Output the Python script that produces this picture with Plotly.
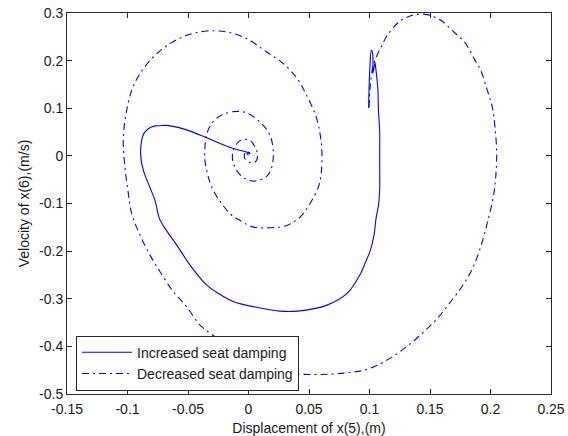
import plotly.graph_objects as go

# Phase trajectory of the seat mass: displacement x(5) vs velocity x(6)
inc_disp = [0.0993, 0.0996, 0.1004, 0.1015, 0.1025, 0.1029, 0.1026, 0.1037, 0.1045,
            0.1054, 0.1070, 0.1074, 0.1084, 0.1084, 0.1084, 0.1074, 0.1054, 0.1037,
            0.1004, 0.0963, 0.0927, 0.0814, 0.0649, 0.0403, 0.0260, 0.0120, -0.0128,
            -0.0345, -0.0483, -0.0593, -0.0690, -0.0737, -0.0773, -0.0869, -0.0891,
            -0.0883, -0.0864, -0.0828, -0.0773, -0.0731, -0.0676, -0.0583, -0.0483,
            -0.0360, -0.0128, -0.0015, 0.0012, 0.0004, -0.0012, 0.0000]
inc_vel = [0.1004, 0.1376, 0.1901, 0.2216, 0.2174, 0.1964, 0.1733, 0.1838, 0.1964,
           0.1796, 0.1376, 0.0956, 0.0536, -0.0095, -0.0725, -0.1040, -0.1313, -0.1670,
           -0.2006, -0.2258, -0.2468, -0.2889, -0.3134, -0.3260, -0.3260, -0.3204, -0.3057,
           -0.2714, -0.2294, -0.1874, -0.1523, -0.1313, -0.0935, -0.0305, 0.0011,
           0.0326, 0.0473, 0.0571, 0.0630, 0.0634, 0.0641, 0.0599, 0.0520,
           0.0395, 0.0155, 0.0080, 0.0042, 0.0074, 0.0053, 0.0010]

dec_disp = [0.0996, 0.1004, 0.1029, 0.1070, 0.1103, 0.1147, 0.1244, 0.1354, 0.1478,
            0.1588, 0.1698, 0.1795, 0.1864, 0.1919, 0.1974, 0.2015, 0.2037, 0.2051,
            0.2043, 0.2023, 0.1979, 0.1940, 0.1864, 0.1781, 0.1671, 0.1560, 0.1450,
            0.1340, 0.1230, 0.1093, 0.0955, 0.0817, 0.0679, 0.0514, 0.0343, 0.0178,
            0.0012, -0.0153, -0.0291, -0.0401, -0.0511, -0.0621, -0.0731, -0.0814,
            -0.0897, -0.0965, -0.0993, -0.1021, -0.1035, -0.1012, -0.0965, -0.0897,
            -0.0787, -0.0649, -0.0511, -0.0345, -0.0180, -0.0015, 0.0150, 0.0288,
            0.0403, 0.0473, 0.0555, 0.0591, 0.0607, 0.0599, 0.0577, 0.0508, 0.0426,
            0.0316, 0.0178, 0.0040, -0.0070, -0.0153, -0.0221, -0.0291, -0.0332,
            -0.0360, -0.0360, -0.0345, -0.0304, -0.0250, -0.0180, -0.0084, -0.0002,
            0.0109, 0.0178, 0.0205, 0.0192, 0.0150, 0.0054, -0.0029, -0.0098, -0.0131,
            -0.0126, -0.0084, -0.0043, 0.0012, 0.0054, 0.0076, 0.0054, 0.0012, -0.0029,
            -0.0033, -0.0012, 0.0008, 0.0008, 0.0000]
dec_vel = [0.1019, 0.1418, 0.1880, 0.2153, 0.2321, 0.2532, 0.2811, 0.2952, 0.2966,
           0.2847, 0.2601, 0.2357, 0.2042, 0.1796, 0.1376, 0.1025, 0.0605, 0.0046,
           -0.0445, -0.0866, -0.1349, -0.1733, -0.2294, -0.2679, -0.3063, -0.3414, -0.3693,
           -0.3939, -0.4149, -0.4359, -0.4500, -0.4555, -0.4584, -0.4590, -0.4569, -0.4485,
           -0.4296, -0.4023, -0.3771, -0.3555, -0.3168, -0.2853, -0.2433, -0.2084,
           -0.1664, -0.1214, -0.0794, -0.0235, 0.0326, 0.0887, 0.1376, 0.1727,
           0.2076, 0.2357, 0.2532, 0.2622, 0.2601, 0.2462, 0.2181, 0.1937,
           0.1622, 0.1307, 0.0851, 0.0466, 0.0053, -0.0410, -0.0655, -0.1004, -0.1286,
           -0.1460, -0.1508, -0.1496, -0.1355, -0.1214, -0.1004, -0.0725, -0.0445,
           -0.0095, 0.0185, 0.0466, 0.0676, 0.0815, 0.0899, 0.0935, 0.0887,
           0.0676, 0.0431, 0.0080, -0.0235, -0.0431, -0.0529, -0.0479, -0.0305, -0.0095,
           0.0116, 0.0290, 0.0347, 0.0326, 0.0185, 0.0011, -0.0130, -0.0137, -0.0059,
           0.0032, 0.0095, 0.0063, 0.0010, 0.0000]

x_ticks = [-0.15, -0.1, -0.05, 0, 0.05, 0.1, 0.15, 0.2, 0.25]
x_tick_text = ["-0.15", "-0.1", "-0.05", "0", "0.05", "0.1", "0.15", "0.2", "0.25"]
y_ticks = [-0.5, -0.4, -0.3, -0.2, -0.1, 0, 0.1, 0.2, 0.3]
y_tick_text = ["-0.5", "-0.4", "-0.3", "-0.2", "-0.1", "0", "0.1", "0.2", "0.3"]

FONT = "Liberation Sans, Arial, Helvetica, sans-serif"
BLUE = "#0000ff"
INK = "#1a1a1a"

fig = go.Figure()
fig.add_trace(go.Scatter(x=inc_disp, y=inc_vel, mode="lines",
                         name="Increased seat damping",
                         line=dict(color=BLUE, width=1.1, shape="spline", smoothing=0.8)))
fig.add_trace(go.Scatter(x=dec_disp, y=dec_vel, mode="lines",
                         name="Decreased seat damping",
                         line=dict(color=BLUE, width=1.1, dash="7px,4px,2px,4px",
                                   shape="spline", smoothing=1.0)))

axis_common = dict(showline=True, linecolor="#262626", linewidth=1, mirror="allticks",
                   ticks="inside", ticklen=5, tickcolor="#262626", showgrid=False,
                   zeroline=False, automargin=False,
                   tickfont=dict(family=FONT, size=14, color=INK))

fig.update_xaxes(range=[-0.15, 0.25], tickvals=x_ticks, ticktext=x_tick_text,
                 ticklabelstandoff=2,
                 title=dict(text="Displacement of x(5),(m)", standoff=8,
                            font=dict(family=FONT, size=14, color=INK)),
                 **axis_common)
fig.update_yaxes(range=[-0.5, 0.3], tickvals=y_ticks, ticktext=y_tick_text,
                 title=dict(text="Velocity of x(6),(m/s)", standoff=6,
                            font=dict(family=FONT, size=14, color=INK)),
                 **axis_common)

fig.update_layout(
    width=568, height=436,
    margin=dict(l=67, r=17, t=13, b=42),
    paper_bgcolor="white", plot_bgcolor="white",
    font=dict(family=FONT, size=14, color=INK),
    legend=dict(x=0.0186, y=0.153, xanchor="left", yanchor="top",
                bgcolor="white", bordercolor="#262626", borderwidth=1,
                itemwidth=50, tracegroupgap=0,
                font=dict(family=FONT, size=14, color=INK)),
)

fig.write_html("out.html")
